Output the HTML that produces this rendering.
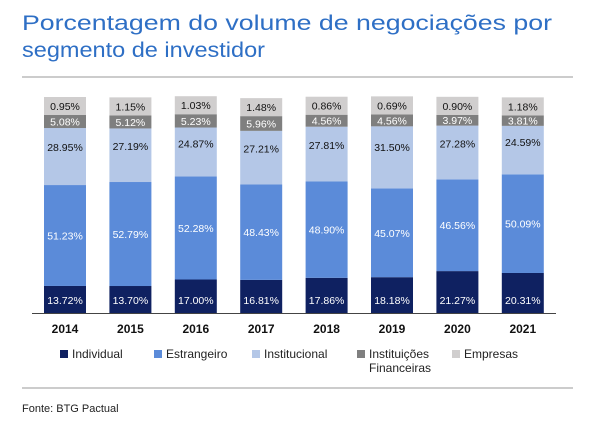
<!DOCTYPE html>
<html><head><meta charset="utf-8"><style>
body{margin:0;background:#fff;width:600px;height:433px;overflow:hidden;font-family:"Liberation Sans",sans-serif}
</style></head><body>
<svg width="600" height="433" xmlns="http://www.w3.org/2000/svg">
<text x="22" y="30" font-size="21" fill="#2e6fc5" textLength="530" lengthAdjust="spacingAndGlyphs">Porcentagem do volume de negociações por</text>
<text x="22" y="57" font-size="21" fill="#2e6fc5" textLength="243" lengthAdjust="spacingAndGlyphs">segmento de investidor</text>
<line x1="22" y1="77" x2="573" y2="77" stroke="#bbb" stroke-width="1.5"/>
<g id="bars"></g>
<line x1="32" y1="313.5" x2="556" y2="313.5" stroke="#444" stroke-width="1"/>
<g id="legend" font-size="12" fill="#222">
<rect x="60" y="350" width="8" height="8" fill="#0f2161"/>
<text x="72" y="358">Individual</text>
<rect x="154" y="350" width="8" height="8" fill="#5b8bd9"/>
<text x="166" y="358">Estrangeiro</text>
<rect x="252" y="350" width="8" height="8" fill="#b4c7e7"/>
<text x="264" y="358">Institucional</text>
<rect x="357" y="350" width="8" height="8" fill="#7f7f7f"/>
<text x="369" y="358">Instituições</text>
<text x="369" y="372">Financeiras</text>
<rect x="452" y="350" width="8" height="8" fill="#d0cece"/>
<text x="464" y="358">Empresas</text>
</g>
<line x1="22" y1="388" x2="573" y2="388" stroke="#bbb" stroke-width="1.5"/>
<text x="22" y="412" font-size="11" fill="#222">Fonte: BTG Pactual</text>
</svg>
<script>
const years=["2014","2015","2016","2017","2018","2019","2020","2021"];
const individual=[13.72,13.70,17.00,16.81,17.86,18.18,21.27,20.31];
const estrangeiro=[51.23,52.79,52.28,48.43,48.90,45.07,46.56,50.09];
const institucional=[28.95,27.19,24.87,27.21,27.81,31.50,27.28,24.59];
const instFin=[5.08,5.12,5.23,5.96,4.56,4.56,3.97,3.81];
const empresas=[0.95,1.15,1.03,1.48,0.86,0.69,0.90,1.18];
const NS="http://www.w3.org/2000/svg";
const g=document.getElementById('bars');
const y0=313, k=1.97, bw=42;
const xc=i=>65+i*65.4;
function mk(tag,attrs){const e=document.createElementNS(NS,tag);for(const a in attrs)e.setAttribute(a,attrs[a]);g.appendChild(e);return e;}
function fmt(v){return v.toFixed(2)+"%";}
years.forEach((yr,i)=>{
  const x=xc(i)-bw/2;
  let y=y0;
  const segs=[[individual[i],"#0f2161","#fff","individual"],[estrangeiro[i],"#5b8bd9","#fff","estrangeiro"],[institucional[i],"#b4c7e7","#111","institucional"]];
  segs.forEach(s=>{
    const h=s[0]*k; y-=h;
    const r=mk('rect',{x:x,y:y,width:bw,height:h,fill:s[1]});
    
    
    const ty=s[3]==="individual"?y0-9:(s[3]==="institucional"?y+h*0.33+4:y+h/2+4);
    const t=mk('text',{x:xc(i),y:ty,'text-anchor':'middle','font-size':'10.5',fill:s[2]});
    t.textContent=fmt(s[0]);
    
    
  });
  const fh=instFin[i]*k+3;
  const fy=y-fh;
  const r2=mk('rect',{x:x,y:fy,width:bw,height:fh,fill:"#7f7f7f"});
  
  
  const t2=mk('text',{x:xc(i),y:fy+fh/2+4,'text-anchor':'middle','font-size':'10.5',fill:"#fff"});
  t2.textContent=fmt(instFin[i]);
  
  
  const eh=18+empresas[i]*0;
  const r3=mk('rect',{x:x,y:fy-eh,width:bw,height:eh,fill:"#d0cece"});
  
  
  const t3=mk('text',{x:xc(i),y:fy-eh/2+4,'text-anchor':'middle','font-size':'10.5',fill:"#111"});
  t3.textContent=fmt(empresas[i]);
  
  
  const ty=mk('text',{x:xc(i),y:333,'text-anchor':'middle','font-size':'12','font-weight':'bold',fill:"#111"});
  ty.textContent=yr;
  
  
});
</script>
</body></html>
